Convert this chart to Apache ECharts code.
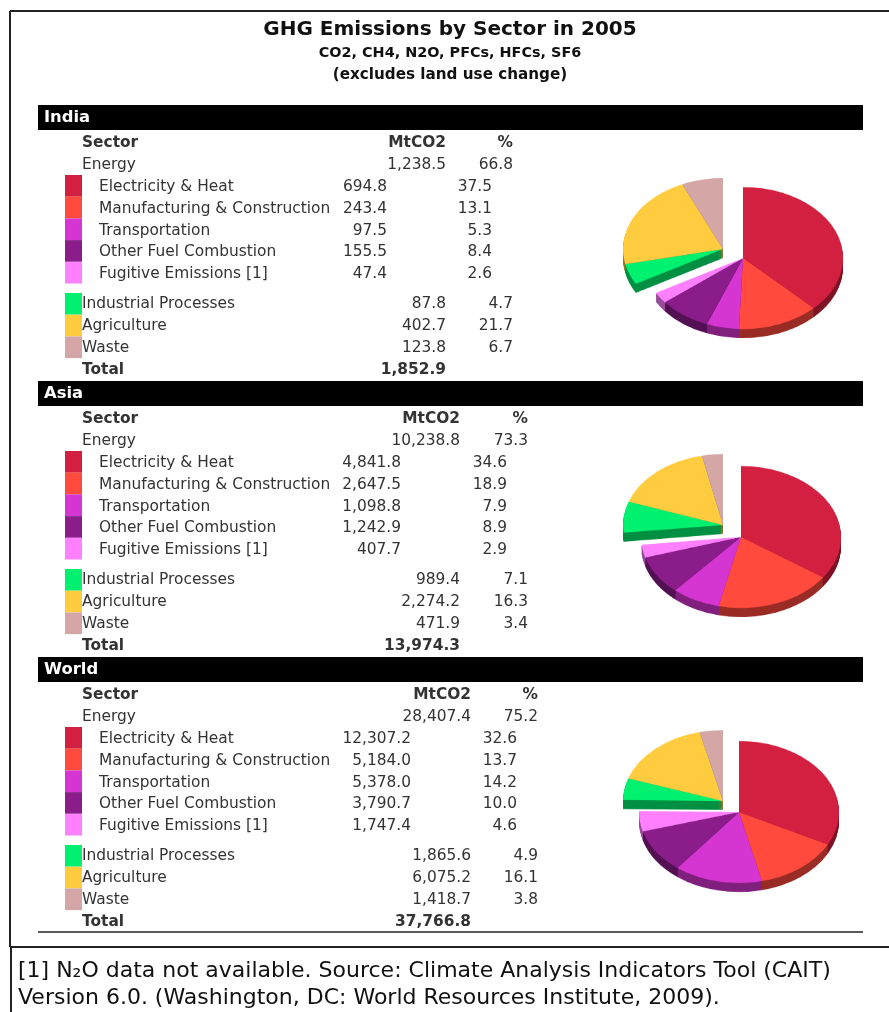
<!DOCTYPE html>
<html>
<head>
<meta charset="utf-8">
<script src="https://cdn.jsdelivr.net/npm/echarts@6/dist/echarts.min.js"></script>
<style>
  html, body { margin: 0; padding: 0; background: #fff; }
  #main { position: absolute; left: 0; top: 0; width: 889px; height: 1012px; }
  #pies { position: absolute; left: 590px; top: 0; width: 299px; transform-origin: 0 0; }
</style>
</head>
<body>
<div id="main"></div>
<div id="pies"></div>
<script>
// ---- data ----
const sectors = ['Electricity & Heat', 'Manufacturing & Construction', 'Transportation',
  'Other Fuel Combustion', 'Fugitive Emissions [1]', 'Industrial Processes', 'Agriculture', 'Waste']
const sectorColors = ['#D42040', '#FF4A3D', '#D535D0', '#8A1D8A', '#FF80FF', '#00F070', '#FFCC40', '#D4A6A6']

const regions = ['India', 'Asia', 'World']

const indiaMt = [694.8, 243.4, 97.5, 155.5, 47.4, 87.8, 402.7, 123.8]
const indiaPct = [37.5, 13.1, 5.3, 8.4, 2.6, 4.7, 21.7, 6.7]
const indiaEnergy = [1238.5, 66.8]
const indiaTotal = 1852.9

const asiaMt = [4841.8, 2647.5, 1098.8, 1242.9, 407.7, 989.4, 2274.2, 471.9]
const asiaPct = [34.6, 18.9, 7.9, 8.9, 2.9, 7.1, 16.3, 3.4]
const asiaEnergy = [10238.8, 73.3]
const asiaTotal = 13974.3

const worldMt = [12307.2, 5184.0, 5378.0, 3790.7, 1747.4, 1865.6, 6075.2, 1418.7]
const worldPct = [32.6, 13.7, 14.2, 10.0, 4.6, 4.9, 16.1, 3.8]
const worldEnergy = [28407.4, 75.2]
const worldTotal = 37766.8

const mtData = [indiaMt, asiaMt, worldMt]
const pctData = [indiaPct, asiaPct, worldPct]
const energyData = [indiaEnergy, asiaEnergy, worldEnergy]
const totalData = [indiaTotal, asiaTotal, worldTotal]

// ---- layout ----
const FONT = '"DejaVu Sans", Verdana, sans-serif'
const FS = 15.4
const SEC_STEP = 276
// right edges of the number columns, per table
const cols = [
  { subV: 387, subP: 492, mainV: 446, mainP: 513 },
  { subV: 401, subP: 507, mainV: 460, mainP: 528 },
  { subV: 411, subP: 517, mainV: 471, mainP: 538 }
]
const SQ = 0.71 // pie tilt
const pieCenters = [[743, 258], [741, 537], [739, 812]]
const groupShift = [[-20, -9], [-18, -12], [-16, -11]]
const PIE_R = 100
const DEPTH = 9

const fmt = v => v.toLocaleString('en-US', { minimumFractionDigits: 1, maximumFractionDigits: 1 })

const txt = (x, y, text, o = {}) => ({
  type: 'text', x, y, silent: true,
  style: {
    text, fill: o.fill || '#333', fontFamily: FONT, fontSize: o.size || FS,
    fontWeight: o.bold ? 'bold' : 'normal', align: o.align || 'left', verticalAlign: 'middle'
  }
})
const rect = (x, y, w, h, fill) => ({ type: 'rect', silent: true, shape: { x, y, width: w, height: h }, style: { fill } })
const line = (x1, y1, x2, y2, w) => ({ type: 'line', silent: true, shape: { x1, y1, x2, y2 }, style: { stroke: '#222', lineWidth: w || 1.5 } })

const graphic = []
// frame
graphic.push(line(10, 11, 889, 11, 2), line(10, 11, 10, 947, 2))
graphic.push(line(10, 947, 889, 947, 2), line(11, 947, 11, 1012, 2))
// title
graphic.push(txt(450, 30, 'GHG Emissions by Sector in 2005', { size: 20, bold: true, fill: '#111', align: 'center' }))
graphic.push(txt(450, 53, 'CO2, CH4, N2O, PFCs, HFCs, SF6', { size: 14.4, bold: true, fill: '#111', align: 'center' }))
graphic.push(txt(450, 75, '(excludes land use change)', { size: 15.2, bold: true, fill: '#111', align: 'center' }))

regions.forEach((name, i) => {
  const y0 = 105 + SEC_STEP * i
  const c = cols[i]
  const mt = mtData[i], pct = pctData[i]
  graphic.push(rect(38, y0, 825, 25, '#000'))
  graphic.push(txt(44, y0 + 13, name, { size: 16.4, bold: true, fill: '#fff' }))
  graphic.push(txt(82, y0 + 38, 'Sector', { bold: true }))
  graphic.push(txt(c.mainV, y0 + 38, 'MtCO2', { bold: true, align: 'right' }))
  graphic.push(txt(c.mainP, y0 + 38, '%', { bold: true, align: 'right' }))
  graphic.push(txt(82, y0 + 60, 'Energy'))
  graphic.push(txt(c.mainV, y0 + 60, fmt(energyData[i][0]), { align: 'right' }))
  graphic.push(txt(c.mainP, y0 + 60, energyData[i][1].toFixed(1), { align: 'right' }))
  sectors.forEach((s, k) => {
    if (k < 5) {
      const y = y0 + 82 + 21.8 * k
      graphic.push(rect(65, y0 + 70 + 21.7 * k, 17, 21.7, sectorColors[k]))
      graphic.push(txt(99, y, s))
      graphic.push(txt(c.subV, y, fmt(mt[k]), { align: 'right' }))
      graphic.push(txt(c.subP, y, pct[k].toFixed(1), { align: 'right' }))
    } else {
      const y = y0 + 199 + 22 * (k - 5)
      graphic.push(rect(65, y0 + 188 + 21.7 * (k - 5), 17, 21.7, sectorColors[k]))
      graphic.push(txt(82, y, s))
      graphic.push(txt(c.mainV, y, fmt(mt[k]), { align: 'right' }))
      graphic.push(txt(c.mainP, y, pct[k].toFixed(1), { align: 'right' }))
    }
  })
  graphic.push(txt(82, y0 + 265, 'Total', { bold: true }))
  graphic.push(txt(c.mainV, y0 + 265, fmt(totalData[i]), { bold: true, align: 'right' }))
})
graphic.push(line(38, 932, 863, 932, 1.5))
// footnote
graphic.push(txt(18, 971, '[1] N\u2082O data not available. Source: Climate Analysis Indicators Tool (CAIT)', { size: 22, fill: '#111' }))
graphic.push(txt(18, 998, 'Version 6.0. (Washington, DC: World Resources Institute, 2009).', { size: 22, fill: '#111' }))

const mainChart = echarts.init(document.getElementById('main'))
mainChart.setOption({ animation: false, graphic })

// ---- pies (tilted by CSS scale, side faces by stacked darker layers) ----
const shade = (hex, f) => {
  const n = parseInt(hex.slice(1), 16)
  const r = Math.round(((n >> 16) & 255) * f), g = Math.round(((n >> 8) & 255) * f), b = Math.round((n & 255) * f)
  return `rgb(${r},${g},${b})`
}
const pieDom = document.getElementById('pies')
pieDom.style.height = Math.round(1012 / SQ) + 'px'
pieDom.style.transform = `scaleY(${SQ})`

const pieSeries = (vals, cx, cy, part, colorFn) => ({
  type: 'pie', silent: true, animation: false,
  center: [cx, cy], radius: PIE_R, startAngle: 90, clockwise: true,
  avoidLabelOverlap: false, label: { show: false }, labelLine: { show: false },
  itemStyle: { borderWidth: 0 },
  data: vals.map((v, k) => ({
    value: v,
    itemStyle: { color: (part === 'energy') === (k < 5) ? colorFn(sectorColors[k]) : 'rgba(0,0,0,0)' }
  }))
})

const series = []
regions.forEach((name, i) => {
  const cx = pieCenters[i][0] - 590
  const cy = pieCenters[i][1] / SQ
  const gx = cx + groupShift[i][0]
  const gy = (pieCenters[i][1] + groupShift[i][1]) / SQ
  const depthPre = DEPTH / SQ
  // back group first, energy part in front
  for (let d = depthPre; d >= 1; d -= 1) series.push(pieSeries(mtData[i], gx, gy + d, 'group', c => shade(c, 0.6)))
  series.push(pieSeries(mtData[i], gx, gy, 'group', c => c))
  for (let d = depthPre; d >= 1; d -= 1) series.push(pieSeries(mtData[i], cx, cy + d, 'energy', c => shade(c, 0.6)))
  series.push(pieSeries(mtData[i], cx, cy, 'energy', c => c))
})

const pieChart = echarts.init(pieDom)
pieChart.setOption({ animation: false, series })
</script>
</body>
</html>
